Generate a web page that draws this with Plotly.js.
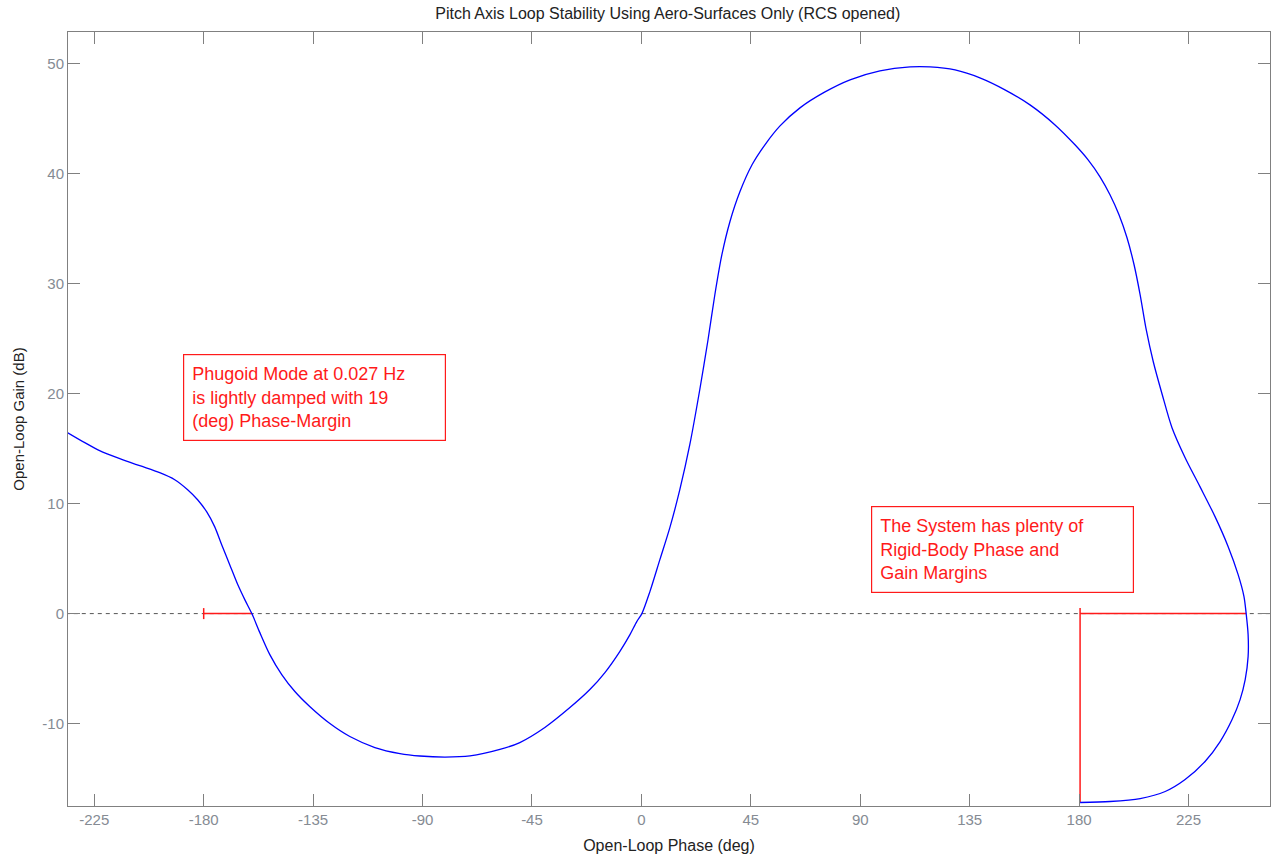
<!DOCTYPE html>
<html>
<head>
<meta charset="utf-8">
<script src="https://cdn.plot.ly/plotly-3.0.1.min.js"></script>
<style>html,body{margin:0;padding:0;background:#fff;}#plot{width:1272px;height:858px;}</style>
</head>
<body>
<div id="plot"></div>
<script>
// Nichols curve: open-loop phase (deg) vs open-loop gain (dB)
const phaseDeg = [-235.9, -228.9, -222.8, -214.5, -206.3, -198.1, -191.9, -186.6, -182.5, -178.8,
  -175.5, -172.6, -169.3, -166.0, -163.1, -160.2, -156.9, -152.8, -147.9, -142.5,
  -136.4, -128.1, -119.9, -109.6, -99.3, -91.1, -80.8, -70.5, -58.2, -50.0, -39.7,
  -29.4, -21.2, -15.0, -8.9, -4.7, -1.9, 0.2, 3.5, 7.6, 11.7,
  15.8, 19.9, 24.0, 27.4, 30.2, 33.1, 36.4, 40.5, 45.5, 50.8,
  57.0, 65.2, 75.5, 85.8, 98.1, 110.5, 118.7, 129.0, 139.2, 149.5,
  159.8, 170.1, 178.3, 183.7, 188.6, 192.7, 196.4, 199.7, 202.6, 205.1, 207.6,
  210.5, 214.2, 218.2, 223.6, 229.7, 235.9, 241.3, 245.4, 247.8, 248.7,
  249.5, 249.5, 248.3, 246.2, 242.9, 238.0, 231.8, 223.6, 215.4, 205.1,
  192.7, 180.4];
const gainDb = [16.45, 15.55, 14.82, 14.09, 13.45, 12.82, 12.18, 11.27, 10.36, 9.27,
  7.91, 6.27, 4.45, 2.64, 1.27, 0, -1.73, -3.73, -5.55, -7.09,
  -8.45, -10.0, -11.18, -12.18, -12.73, -12.95, -13.05, -12.95, -12.36, -11.73, -10.36,
  -8.55, -6.91, -5.36, -3.45, -1.91, -0.73, 0, 2.0, 4.91, 7.82,
  11.27, 15.36, 20.36, 24.91, 29.0, 32.64, 35.64, 38.36, 40.82, 42.64,
  44.36, 46.0, 47.45, 48.55, 49.36, 49.73, 49.73, 49.45, 48.73, 47.64,
  46.27, 44.45, 42.64, 41.27, 39.73, 38.09, 36.27, 34.18, 31.73, 29.0, 25.82,
  22.91, 19.91, 16.91, 14.18, 11.55, 8.82, 6.09, 3.55, 1.55, 0,
  -1.91, -3.91, -6.0, -7.82, -9.64, -11.64, -13.45, -15.09, -16.18, -16.82,
  -17.09, -17.18];

// Margin markers
const pmLineX = [-180, -160.2];
const pmLineY = [0, 0];
const pmTickX = [-180, -180];
const pmTickY = [-0.5, 0.5];
const gmVertX = [180.4, 180.4];
const gmVertY = [-17.15, 0.5];
const gmHorzX = [180.4, 248.7];
const gmHorzY = [0, 0];
const zeroLineX = [-240, 260];
const zeroLineY = [0, 0];

const xTicks = [-225, -180, -135, -90, -45, 0, 45, 90, 135, 180, 225];
const yTicks = [-10, 0, 10, 20, 30, 40, 50];

const titleText = 'Pitch Axis Loop Stability Using Aero-Surfaces Only (RCS opened)';
const xTitle = 'Open-Loop Phase (deg)';
const yTitle = 'Open-Loop Gain (dB)';
const note1 = 'Phugoid Mode at 0.027 Hz<br>is lightly damped with 19<br>(deg) Phase-Margin';
const note2 = 'The System has plenty of<br>Rigid-Body Phase and<br>Gain Margins';

const red = '#ff1a1a';
const traces = [
  {x: zeroLineX, y: zeroLineY, mode: 'lines', line: {color: '#555555', width: 1, dash: '4px,4px'}, hoverinfo: 'skip'},
  {x: pmLineX, y: pmLineY, mode: 'lines', line: {color: red, width: 1.5}},
  {x: pmTickX, y: pmTickY, mode: 'lines', line: {color: red, width: 1.5}},
  {x: gmVertX, y: gmVertY, mode: 'lines', line: {color: red, width: 1.5}},
  {x: gmHorzX, y: gmHorzY, mode: 'lines', line: {color: red, width: 1.5}},
  {x: phaseDeg, y: gainDb, mode: 'lines', line: {color: '#0000ff', width: 1.3, shape: 'spline', smoothing: 0.8}}
];

const fam = 'Liberation Sans, Arial, sans-serif';
const axisCommon = {
  showgrid: false, zeroline: false,
  showline: true, linecolor: '#808080', linewidth: 1, mirror: 'ticks',
  ticks: 'inside', ticklen: 12, tickcolor: '#808080', tickwidth: 1,
  tickfont: {family: fam, size: 15, color: '#858b93'}
};

const layout = {
  width: 1272, height: 858,
  margin: {l: 68, r: 2, t: 32, b: 52},
  paper_bgcolor: '#ffffff', plot_bgcolor: '#ffffff',
  showlegend: false,
  font: {family: fam, color: '#000'},
  title: {text: titleText, font: {size: 16, color: '#222'}, x: 0.525, xanchor: 'center', y: 0.984, yanchor: 'middle'},
  xaxis: Object.assign({}, axisCommon, {
    range: [-235.8, 258.5], tickvals: xTicks, ticktext: xTicks.map(String),
    title: {text: xTitle, font: {size: 16, color: '#222'}, standoff: 12}
  }),
  yaxis: Object.assign({}, axisCommon, {
    range: [-17.5, 52.9], tickvals: yTicks, ticktext: yTicks.map(String),
    title: {text: yTitle, font: {size: 15, color: '#222'}, standoff: 14}
  }),
  annotations: [
    {x: -134.5, y: 19.7, xref: 'x', yref: 'y', text: note1, showarrow: false, align: 'left',
     font: {size: 18, color: red}, bordercolor: red, borderwidth: 1.2, borderpad: 8,
     width: 245, height: 69, bgcolor: '#fff', xanchor: 'center', yanchor: 'middle'},
    {x: 148.5, y: 5.8, xref: 'x', yref: 'y', text: note2, showarrow: false, align: 'left',
     font: {size: 18, color: red}, bordercolor: red, borderwidth: 1.2, borderpad: 8,
     width: 245, height: 69, bgcolor: '#fff', xanchor: 'center', yanchor: 'middle'}
  ]
};

Plotly.newPlot('plot', traces, layout, {displayModeBar: false, staticPlot: true});
</script>
</body>
</html>
